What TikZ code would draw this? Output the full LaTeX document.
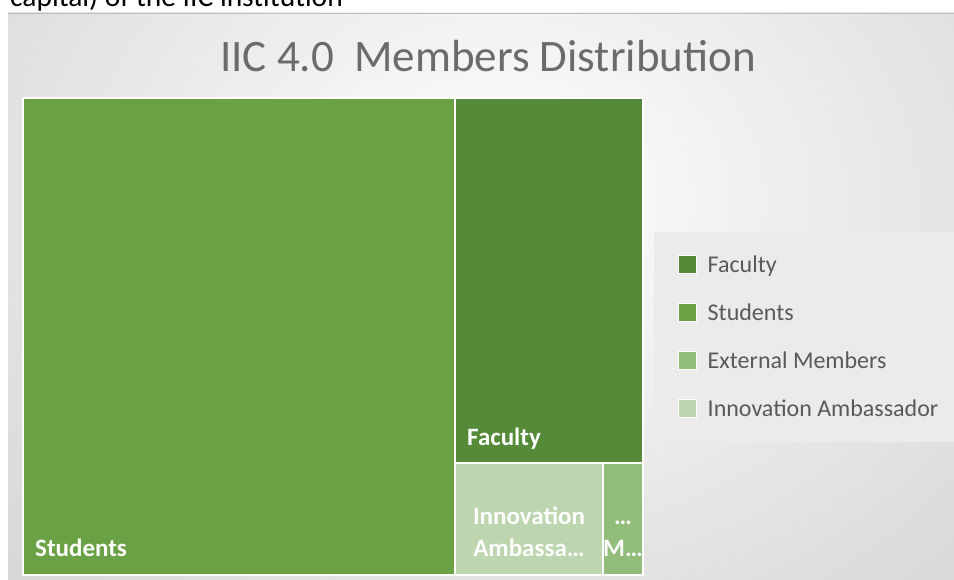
\documentclass[tikz,border=0pt]{standalone}
\usepackage{fontspec}
\setmainfont{Carlito}
\usepackage{xcolor}
\usepackage{tikz}
\usetikzlibrary{positioning}

\definecolor{studentsgreen}{HTML}{6AA145}
\definecolor{facultygreen}{HTML}{548A38}
\definecolor{externalgreen}{HTML}{91BC7A}
\definecolor{innovationgreen}{HTML}{BDD6B0}
\definecolor{bggray}{HTML}{BDBDBD}
\definecolor{framegray}{HTML}{BEBEBE}
\definecolor{legendbg}{HTML}{EBEBEB}
\definecolor{titlegray}{HTML}{6B6B6B}
\definecolor{labelgray}{HTML}{595959}

\begin{document}
\begin{tikzpicture}[
    x=1pt, y=1pt,
    treecell/.style={rectangle, draw=white, line width=1.5pt, inner sep=0pt, outer sep=0pt, anchor=north west},
    celltext/.style={text=white, font=\fontsize{25}{32}\selectfont\bfseries, inner sep=0pt},
    legendkey/.style={rectangle, draw=white, line width=1pt, minimum size=18pt, inner sep=0pt, outer sep=0pt},
    keytext/.style={text=labelgray, font=\fontsize{24}{28}\selectfont, inner sep=0pt, anchor=base west}
    ]
    \clip (0,0) rectangle (954,580);

    % Text above the chart
    \node (caption) [anchor=base west, inner sep=0pt, font=\fontsize{29.5}{36}\selectfont] at (10,573) {capital) of the IIC institution};

    % Chart area
    \begin{scope}
        \clip (8,0) rectangle (954,567);
        \shade[inner color=white, outer color=bggray] (-620,-520) rectangle (1620,1280);
    \end{scope}
    \draw[framegray, line width=0.8pt] (8,567) -- (954,567);

    % Title
    \node (title) [anchor=base, text=titlegray, font=\fontsize{45}{50}\selectfont, inner sep=0pt] at (488,508) {IIC 4.0\ \ Members Distribution};

    % Treemap cells
    \node (students) [treecell, fill=studentsgreen, minimum width=432pt, minimum height=477pt] at (23,482) {};
    \node (faculty) [treecell, fill=facultygreen, minimum width=188pt, minimum height=365pt] at (students.north east) {};
    \node (innovation) [treecell, fill=innovationgreen, minimum width=148pt, minimum height=112pt] at (faculty.south west) {};
    \node (external) [treecell, fill=externalgreen, minimum width=40pt, minimum height=112pt] at (innovation.north east) {};

    % Cell labels
    \node (studentslabel) [celltext, anchor=base west] at ([shift={(12pt,18pt)}]students.south west) {Students};
    \node (facultylabel) [celltext, anchor=base west] at ([shift={(12pt,17pt)}]faculty.south west) {Faculty};
    \node (innovationlabel) [celltext, align=center, anchor=base] at ([yshift=18pt]innovation.south) {Innovation\\Ambassa…};
    \node (externallabel) [celltext, align=center, anchor=base] at ([yshift=18pt]external.south) {…\\M…};

    % Legend
    \node (legend) [rectangle, fill=legendbg, minimum width=300pt, minimum height=210pt, inner sep=0pt, outer sep=0pt, anchor=north west] at (654,348) {};
    \node (facultykey) [legendkey, fill=facultygreen] at (687.5,315) {};
    \node (studentskey) [legendkey, fill=studentsgreen, below=30pt of facultykey] {};
    \node (externalkey) [legendkey, fill=externalgreen, below=30pt of studentskey] {};
    \node (innovationkey) [legendkey, fill=innovationgreen, below=30pt of externalkey] {};

    \node (facultytext) [keytext] at ([shift={(11pt,1pt)}]facultykey.south east) {Faculty};
    \node (studentstext) [keytext] at ([shift={(11pt,1pt)}]studentskey.south east) {Students};
    \node (externaltext) [keytext] at ([shift={(11pt,1pt)}]externalkey.south east) {External Members};
    \node (innovationtext) [keytext] at ([shift={(11pt,1pt)}]innovationkey.south east) {Innovation Ambassador};
\end{tikzpicture}
\end{document}
